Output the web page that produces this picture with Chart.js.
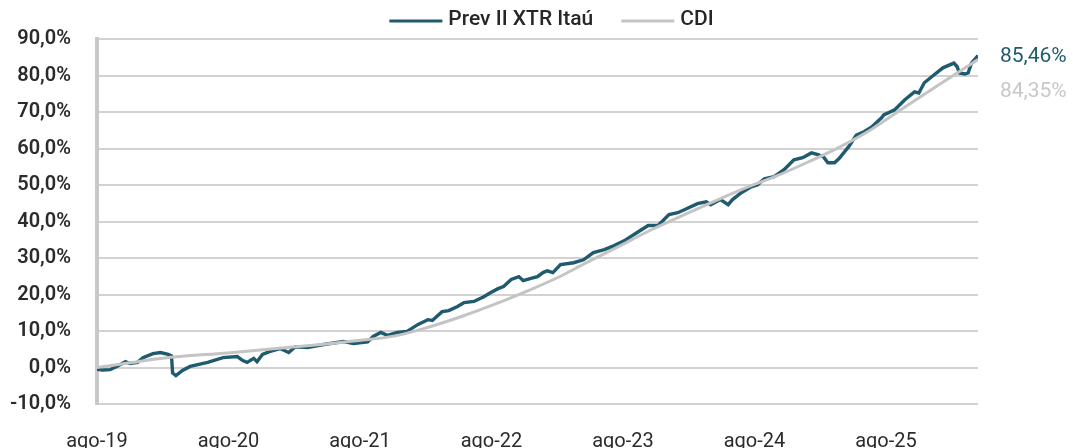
<!DOCTYPE html>
<html>
<head>
<meta charset="utf-8">
<script src="https://cdn.jsdelivr.net/npm/chart.js@4.4.1/dist/chart.umd.min.js"></script>
<style>
html,body{margin:0;padding:0;background:#fff;}
#wrap{width:1073px;height:448px;}
</style>
</head>
<body>
<div id="wrap"><canvas id="c" width="1073" height="448"></canvas></div>
<script>
// ---- data (x = months since ago-19) ----
const seriesNames = ['Prev II XTR Itaú', 'CDI'];
const tickMonths = [0, 12, 24, 36, 48, 60, 72];
const tickLabels = ['ago-19', 'ago-20', 'ago-21', 'ago-22', 'ago-23', 'ago-24', 'ago-25'];
const yTickValues = [-10, 0, 10, 20, 30, 40, 50, 60, 70, 80, 90];

const prevMonths = [0,0.5,1.2,1.8,2.6,3.0,3.7,4.2,5.1,5.8,
  6.5,6.8,6.9,7.2,7.8,8.5,10.1,11.5,12.8,13.3,
  13.7,14.3,14.6,15.1,15.8,16.7,17.5,18.1,19.2,20.7,
  22.5,23.4,24.7,25.2,25.9,26.5,27.4,28.3,29.3,30.2,
  30.6,31.5,32.1,32.9,33.5,34.4,35.3,35.9,36.6,37.1,
  37.8,38.5,38.9,39.6,40.2,40.7,41.1,41.6,42.3,43.5,
  44.4,45.3,46.3,47.2,48.1,49.4,50.3,51.2,52.2,53.0,
  53.6,54.8,55.6,56.0,56.9,57.6,58.0,58.8,59.7,60.3,
  60.9,61.8,62.7,63.6,64.4,65.2,65.8,66.3,66.7,67.3,
  67.7,68.6,69.3,70.0,70.7,71.6,71.8,72.8,73.7,74.6,
  75.0,75.5,76.4,77.2,78.2,78.5,78.7,79.2,79.5,79.8,
  80.4];
const prevValues = [-0.5,-0.7,-0.6,0.3,1.6,1.1,1.4,2.7,3.8,4.1,
  3.6,3.2,-1.5,-2.2,-0.8,0.3,1.4,2.7,3.0,1.9,
  1.4,2.5,1.6,3.6,4.4,5.2,4.1,5.7,5.5,6.3,
  7.1,6.6,7.0,8.5,9.6,8.8,9.6,9.9,11.8,13.1,
  12.9,15.3,15.6,16.7,17.8,18.1,19.4,20.5,21.6,22.2,
  24.1,24.9,23.8,24.4,24.9,26.0,26.5,26.0,28.2,28.7,
  29.5,31.5,32.3,33.4,34.7,37.2,38.9,38.9,41.9,42.4,
  43.2,44.9,45.4,44.6,46.0,44.6,46.0,47.9,49.5,50.1,
  51.7,52.3,54.2,56.9,57.5,58.8,58.3,57.7,56.1,56.1,
  57.2,60.5,63.7,64.6,65.9,68.4,69.2,70.6,73.3,75.5,
  75.2,78.0,80.2,82.1,83.4,82.4,80.7,80.4,80.7,83.4,
  85.46];

const cdiMonths = [0,3.0,6.7,11.9,18.6,23.9,27.1,30.2,33.2,36.2,39.3,42.3,44.4,47.5,50.5,53.7,56.7,59.7,61.8,64.9,67.9,70.7,73.7,76.8,80.4];
const cdiValues = [0,1.3,2.8,4.0,5.8,7.4,8.6,11.0,13.9,17.2,21.0,25.0,28.3,33.0,37.6,42.0,46.0,49.8,52.2,56.3,60.6,65.3,71.3,77.4,84.35];

// ---- styles ----
const PREV_COLOR = '#1f5a6e';
const CDI_COLOR = '#c4c4c4';
const FONT = 'Roboto, "Noto Sans", sans-serif';
const fmtPct = (v, d) => v.toFixed(d).replace('.', ',') + '%';

const customLegend = {
  id: 'customLegend',
  afterDraw(chart) {
    const ctx = chart.ctx;
    ctx.save();
    ctx.font = '500 21px ' + FONT;
    ctx.textBaseline = 'middle';
    const lineLen = 53, gap = 6, itemGap = 28;
    const items = chart.data.datasets.map(d => ({label: d.label, color: d.borderColor}));
    const widths = items.map(it => lineLen + gap + ctx.measureText(it.label).width);
    const total = widths.reduce((a, b) => a + b, 0) + itemGap * (items.length - 1);
    const centerX = (chart.chartArea.left + chart.chartArea.right) / 2 + 14;
    let x = centerX - total / 2;
    const y = 20;
    items.forEach((it, i) => {
      ctx.strokeStyle = it.color;
      ctx.lineWidth = 3;
      ctx.beginPath();
      ctx.moveTo(x, y + 1);
      ctx.lineTo(x + lineLen, y + 1);
      ctx.stroke();
      ctx.fillStyle = '#262626';
      ctx.textAlign = 'left';
      ctx.fillText(it.label, x + lineLen + gap, y);
      x += widths[i] + itemGap;
    });
    ctx.restore();
  }
};

const endLabels = {
  id: 'endLabels',
  afterDraw(chart) {
    const ctx = chart.ctx;
    const ys = chart.scales.y;
    ctx.save();
    ctx.font = '400 21px ' + FONT;
    ctx.textAlign = 'left';
    ctx.textBaseline = 'middle';
    const x = chart.chartArea.right + 22;
    const pLast = prevValues[prevValues.length - 1];
    const cLast = cdiValues[cdiValues.length - 1];
    const py = ys.getPixelForValue(pLast) + 1;
    const cy = Math.max(ys.getPixelForValue(cLast), py + 35);
    ctx.fillStyle = PREV_COLOR;
    ctx.fillText(fmtPct(pLast, 2), x, py);
    ctx.fillStyle = '#c8c8c8';
    ctx.fillText(fmtPct(cLast, 2), x, cy);
    ctx.restore();
  }
};

new Chart(document.getElementById('c'), {
  type: 'line',
  data: {
    datasets: [
      {
        label: seriesNames[0],
        data: prevMonths.map((m, i) => ({x: m, y: prevValues[i]})),
        borderColor: PREV_COLOR,
        backgroundColor: PREV_COLOR,
        borderWidth: 3.4,
        pointRadius: 0,
        tension: 0,
        order: 2
      },
      {
        label: seriesNames[1],
        data: cdiMonths.map((m, i) => ({x: m, y: cdiValues[i]})),
        borderColor: CDI_COLOR,
        backgroundColor: CDI_COLOR,
        borderWidth: 3,
        pointRadius: 0,
        cubicInterpolationMode: 'monotone',
        order: 1
      }
    ]
  },
  options: {
    responsive: false,
    animation: false,
    layout: {padding: {top: 39, right: 95, left: 0, bottom: 0}},
    plugins: {legend: {display: false}, tooltip: {enabled: false}},
    scales: {
      x: {
        type: 'linear',
        min: 0,
        max: 80.4,
        grid: {display: false},
        border: {display: false},
        afterBuildTicks(axis) { axis.ticks = tickMonths.map(v => ({value: v})); },
        afterFit(axis) { axis.height = 44; },
        ticks: {
          autoSkip: false,
          maxRotation: 0,
          padding: 18,
          color: '#2b2b2b',
          font: {family: FONT, size: 20, weight: '400'},
          callback: (v) => { const i = tickMonths.indexOf(v); return i >= 0 ? tickLabels[i] : ''; }
        }
      },
      y: {
        min: -10,
        max: 90,
        afterBuildTicks(axis) { axis.ticks = yTickValues.map(v => ({value: v})); },
        afterFit(axis) { axis.width = 97; },
        grid: {color: '#d2d2d2', lineWidth: 2, drawTicks: false},
        border: {display: true, color: '#c8c8c8', width: 4},
        ticks: {
          padding: 26,
          color: '#2b2b2b',
          font: {family: FONT, size: 20, weight: '600'},
          callback: (v) => fmtPct(v, 1)
        }
      }
    }
  },
  plugins: [customLegend, endLabels]
});
</script>
</body>
</html>
